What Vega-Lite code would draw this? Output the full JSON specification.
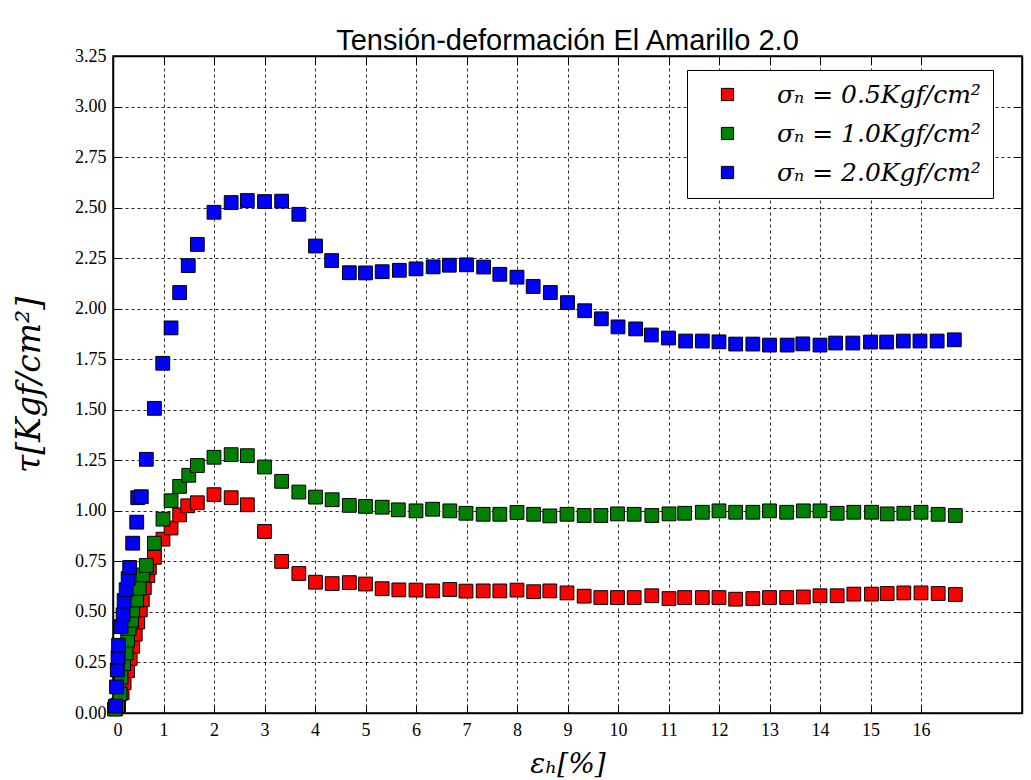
{
  "$schema": "https://vega.github.io/schema/vega-lite/v6.json",
  "autosize": {"type": "none"},
  "padding": {"left": 113, "top": 56, "right": 9, "bottom": 67},
  "width": 909,
  "height": 657,
  "background": "white",
  "title": {"text": "Tensión-deformación El Amarillo 2.0", "font": "Liberation Sans", "fontSize": 29, "fontWeight": "normal", "color": "black", "offset": 5, "dy": 14, "anchor": "middle"},
  "config": {
    "view": {"stroke": "black", "strokeWidth": 1.5},
    "axis": {"domainColor": "black", "domainWidth": 1.5, "tickColor": "black", "tickWidth": 1, "labelColor": "black", "titleColor": "black", "labelFont": "Liberation Serif", "labelFontSize": 18, "titleFont": "DejaVu Serif", "titleFontStyle": "italic", "titleFontWeight": "normal", "gridColor": "black", "gridOpacity": 0.85, "gridDash": [3, 3], "gridWidth": 1}
  },
  "datasets": {
    "pts": [
      {"s":"0.5","x":0.05,"y":0.02},{"s":"0.5","x":0.11,"y":0.04},{"s":"0.5","x":0.18,"y":0.10},{"s":"0.5","x":0.22,"y":0.15},{"s":"0.5","x":0.29,"y":0.21},{"s":"0.5","x":0.34,"y":0.27},{"s":"0.5","x":0.39,"y":0.33},{"s":"0.5","x":0.44,"y":0.39},{"s":"0.5","x":0.49,"y":0.45},{"s":"0.5","x":0.54,"y":0.51},{"s":"0.5","x":0.58,"y":0.56},{"s":"0.5","x":0.62,"y":0.62},{"s":"0.5","x":0.69,"y":0.68},{"s":"0.5","x":0.72,"y":0.72},{"s":"0.5","x":0.82,"y":0.77},{"s":"0.5","x":0.99,"y":0.86},{"s":"0.5","x":1.15,"y":0.915},{"s":"0.5","x":1.32,"y":0.98},{"s":"0.5","x":1.48,"y":1.025},{"s":"0.5","x":1.67,"y":1.04},{"s":"0.5","x":2.0,"y":1.08},{"s":"0.5","x":2.34,"y":1.065},{"s":"0.5","x":2.66,"y":1.03},{"s":"0.5","x":3.0,"y":0.898},{"s":"0.5","x":3.34,"y":0.75},{"s":"0.5","x":3.68,"y":0.69},{"s":"0.5","x":4.01,"y":0.647},{"s":"0.5","x":4.34,"y":0.64},{"s":"0.5","x":4.68,"y":0.645},{"s":"0.5","x":5.0,"y":0.638},{"s":"0.5","x":5.33,"y":0.615},{"s":"0.5","x":5.66,"y":0.609},{"s":"0.5","x":6.0,"y":0.608},{"s":"0.5","x":6.33,"y":0.604},{"s":"0.5","x":6.67,"y":0.611},{"s":"0.5","x":6.99,"y":0.603},{"s":"0.5","x":7.33,"y":0.604},{"s":"0.5","x":7.66,"y":0.604},{"s":"0.5","x":8.0,"y":0.608},{"s":"0.5","x":8.33,"y":0.6},{"s":"0.5","x":8.65,"y":0.604},{"s":"0.5","x":8.99,"y":0.594},{"s":"0.5","x":9.33,"y":0.578},{"s":"0.5","x":9.66,"y":0.571},{"s":"0.5","x":9.99,"y":0.571},{"s":"0.5","x":10.32,"y":0.571},{"s":"0.5","x":10.67,"y":0.58},{"s":"0.5","x":11.01,"y":0.566},{"s":"0.5","x":11.32,"y":0.571},{"s":"0.5","x":11.67,"y":0.571},{"s":"0.5","x":12.0,"y":0.571},{"s":"0.5","x":12.33,"y":0.563},{"s":"0.5","x":12.67,"y":0.566},{"s":"0.5","x":13.0,"y":0.571},{"s":"0.5","x":13.34,"y":0.571},{"s":"0.5","x":13.67,"y":0.574},{"s":"0.5","x":14.0,"y":0.58},{"s":"0.5","x":14.34,"y":0.58},{"s":"0.5","x":14.67,"y":0.588},{"s":"0.5","x":15.02,"y":0.588},{"s":"0.5","x":15.33,"y":0.591},{"s":"0.5","x":15.66,"y":0.594},{"s":"0.5","x":16.0,"y":0.594},{"s":"0.5","x":16.34,"y":0.591},{"s":"0.5","x":16.68,"y":0.586},
      {"s":"1.0","x":0.03,"y":0.02},{"s":"1.0","x":0.09,"y":0.036},{"s":"1.0","x":0.14,"y":0.095},{"s":"1.0","x":0.16,"y":0.177},{"s":"1.0","x":0.21,"y":0.244},{"s":"1.0","x":0.26,"y":0.297},{"s":"1.0","x":0.29,"y":0.36},{"s":"1.0","x":0.32,"y":0.418},{"s":"1.0","x":0.37,"y":0.459},{"s":"1.0","x":0.39,"y":0.509},{"s":"1.0","x":0.47,"y":0.559},{"s":"1.0","x":0.52,"y":0.617},{"s":"1.0","x":0.59,"y":0.683},{"s":"1.0","x":0.66,"y":0.73},{"s":"1.0","x":0.82,"y":0.84},{"s":"1.0","x":0.99,"y":0.959},{"s":"1.0","x":1.15,"y":1.05},{"s":"1.0","x":1.32,"y":1.121},{"s":"1.0","x":1.5,"y":1.176},{"s":"1.0","x":1.67,"y":1.224},{"s":"1.0","x":2.0,"y":1.265},{"s":"1.0","x":2.34,"y":1.278},{"s":"1.0","x":2.66,"y":1.273},{"s":"1.0","x":3.0,"y":1.217},{"s":"1.0","x":3.34,"y":1.146},{"s":"1.0","x":3.68,"y":1.093},{"s":"1.0","x":4.01,"y":1.068},{"s":"1.0","x":4.34,"y":1.055},{"s":"1.0","x":4.68,"y":1.027},{"s":"1.0","x":5.0,"y":1.022},{"s":"1.0","x":5.33,"y":1.018},{"s":"1.0","x":5.65,"y":1.005},{"s":"1.0","x":6.0,"y":1.0},{"s":"1.0","x":6.33,"y":1.008},{"s":"1.0","x":6.67,"y":1.0},{"s":"1.0","x":6.99,"y":0.988},{"s":"1.0","x":7.33,"y":0.983},{"s":"1.0","x":7.66,"y":0.983},{"s":"1.0","x":8.0,"y":0.992},{"s":"1.0","x":8.33,"y":0.983},{"s":"1.0","x":8.65,"y":0.975},{"s":"1.0","x":8.99,"y":0.983},{"s":"1.0","x":9.33,"y":0.977},{"s":"1.0","x":9.66,"y":0.977},{"s":"1.0","x":9.99,"y":0.985},{"s":"1.0","x":10.32,"y":0.983},{"s":"1.0","x":10.67,"y":0.977},{"s":"1.0","x":11.01,"y":0.985},{"s":"1.0","x":11.32,"y":0.988},{"s":"1.0","x":11.67,"y":0.993},{"s":"1.0","x":12.0,"y":1.0},{"s":"1.0","x":12.33,"y":0.993},{"s":"1.0","x":12.67,"y":0.993},{"s":"1.0","x":13.0,"y":1.0},{"s":"1.0","x":13.34,"y":0.993},{"s":"1.0","x":13.67,"y":1.0},{"s":"1.0","x":14.0,"y":1.0},{"s":"1.0","x":14.34,"y":0.988},{"s":"1.0","x":14.67,"y":0.993},{"s":"1.0","x":15.02,"y":0.993},{"s":"1.0","x":15.33,"y":0.985},{"s":"1.0","x":15.66,"y":0.988},{"s":"1.0","x":16.0,"y":0.993},{"s":"1.0","x":16.34,"y":0.983},{"s":"1.0","x":16.68,"y":0.977},
      {"s":"2.0","x":0.05,"y":0.034},{"s":"2.0","x":0.07,"y":0.129},{"s":"2.0","x":0.085,"y":0.213},{"s":"2.0","x":0.1,"y":0.276},{"s":"2.0","x":0.11,"y":0.335},{"s":"2.0","x":0.16,"y":0.427},{"s":"2.0","x":0.2,"y":0.486},{"s":"2.0","x":0.22,"y":0.556},{"s":"2.0","x":0.26,"y":0.61},{"s":"2.0","x":0.3,"y":0.665},{"s":"2.0","x":0.33,"y":0.72},{"s":"2.0","x":0.39,"y":0.84},{"s":"2.0","x":0.47,"y":0.944},{"s":"2.0","x":0.49,"y":1.065},{"s":"2.0","x":0.56,"y":1.07},{"s":"2.0","x":0.66,"y":1.255},{"s":"2.0","x":0.82,"y":1.507},{"s":"2.0","x":0.985,"y":1.73},{"s":"2.0","x":1.15,"y":1.905},{"s":"2.0","x":1.32,"y":2.08},{"s":"2.0","x":1.49,"y":2.213},{"s":"2.0","x":1.67,"y":2.318},{"s":"2.0","x":2.0,"y":2.477},{"s":"2.0","x":2.34,"y":2.525},{"s":"2.0","x":2.66,"y":2.535},{"s":"2.0","x":3.0,"y":2.53},{"s":"2.0","x":3.34,"y":2.532},{"s":"2.0","x":3.68,"y":2.467},{"s":"2.0","x":4.01,"y":2.31},{"s":"2.0","x":4.33,"y":2.238},{"s":"2.0","x":4.68,"y":2.178},{"s":"2.0","x":5.0,"y":2.177},{"s":"2.0","x":5.33,"y":2.183},{"s":"2.0","x":5.67,"y":2.19},{"s":"2.0","x":6.0,"y":2.197},{"s":"2.0","x":6.34,"y":2.207},{"s":"2.0","x":6.66,"y":2.215},{"s":"2.0","x":7.0,"y":2.217},{"s":"2.0","x":7.34,"y":2.206},{"s":"2.0","x":7.66,"y":2.17},{"s":"2.0","x":8.0,"y":2.156},{"s":"2.0","x":8.32,"y":2.11},{"s":"2.0","x":8.66,"y":2.08},{"s":"2.0","x":9.0,"y":2.03},{"s":"2.0","x":9.34,"y":1.99},{"s":"2.0","x":9.67,"y":1.95},{"s":"2.0","x":10.0,"y":1.91},{"s":"2.0","x":10.35,"y":1.9},{"s":"2.0","x":10.66,"y":1.87},{"s":"2.0","x":11.0,"y":1.855},{"s":"2.0","x":11.34,"y":1.84},{"s":"2.0","x":11.67,"y":1.84},{"s":"2.0","x":12.0,"y":1.836},{"s":"2.0","x":12.33,"y":1.825},{"s":"2.0","x":12.67,"y":1.825},{"s":"2.0","x":13.0,"y":1.82},{"s":"2.0","x":13.35,"y":1.82},{"s":"2.0","x":13.66,"y":1.826},{"s":"2.0","x":14.0,"y":1.82},{"s":"2.0","x":14.31,"y":1.83},{"s":"2.0","x":14.65,"y":1.83},{"s":"2.0","x":15.0,"y":1.835},{"s":"2.0","x":15.32,"y":1.835},{"s":"2.0","x":15.65,"y":1.84},{"s":"2.0","x":15.98,"y":1.84},{"s":"2.0","x":16.32,"y":1.84},{"s":"2.0","x":16.66,"y":1.846}
    ]
  },
  "data": {"name": "pts"},
  "layer": [
    {
      "mark": {"type": "point", "shape": "square", "filled": true, "size": 190, "stroke": "black", "strokeWidth": 1, "opacity": 1},
      "encoding": {
        "x": {"field": "x", "type": "quantitative", "scale": {"domain": [0, 18], "nice": false, "zero": false},
          "axis": {"orient": "bottom", "values": [0,1,2,3,4,5,6,7,8,9,10,11,12,13,14,15,16], "format": "d", "tickSize": -8, "labelPadding": 16, "title": "εₕ[%]", "titleFontSize": 28, "titlePadding": 11, "grid": true}},
        "y": {"field": "y", "type": "quantitative", "scale": {"domain": [0, 3.25], "nice": false},
          "axis": {"orient": "left", "values": [0,0.25,0.5,0.75,1,1.25,1.5,1.75,2,2.25,2.5,2.75,3,3.25], "format": ".2f", "tickSize": -8, "labelPadding": 15, "title": "τ[Kgf/cm²]", "titleFontSize": 33, "titlePadding": 28, "grid": true}},
        "color": {"field": "s", "type": "nominal", "scale": {"domain": ["0.5", "1.0", "2.0"], "range": ["#ff0000", "#008000", "#0000ff"]},
          "legend": {"title": null, "orient": "none", "legendX": 574, "legendY": 14, "fillColor": "white", "strokeColor": "black", "padding": 12, "symbolOffset": 16, "symbolType": "square", "symbolSize": 150, "symbolStrokeColor": "black", "symbolStrokeWidth": 1, "symbolOpacity": 1, "labelFont": "DejaVu Serif", "labelFontStyle": "italic", "labelFontSize": 25, "labelColor": "black", "labelOffset": 37, "labelLimit": 500, "rowPadding": 13, "labelExpr": "'σₙ = ' + datum.label + 'Kgf/cm²'"}}
      }
    },
    {
      "mark": {"type": "point", "opacity": 0},
      "encoding": {
        "x": {"field": "x", "type": "quantitative", "axis": {"orient": "top", "values": [0,1,2,3,4,5,6,7,8,9,10,11,12,13,14,15,16], "labels": false, "tickSize": -8, "title": null, "grid": false}},
        "y": {"field": "y", "type": "quantitative", "axis": {"orient": "right", "values": [0,0.25,0.5,0.75,1,1.25,1.5,1.75,2,2.25,2.5,2.75,3,3.25], "labels": false, "tickSize": -8, "title": null, "grid": false}}
      }
    }
  ]
}
